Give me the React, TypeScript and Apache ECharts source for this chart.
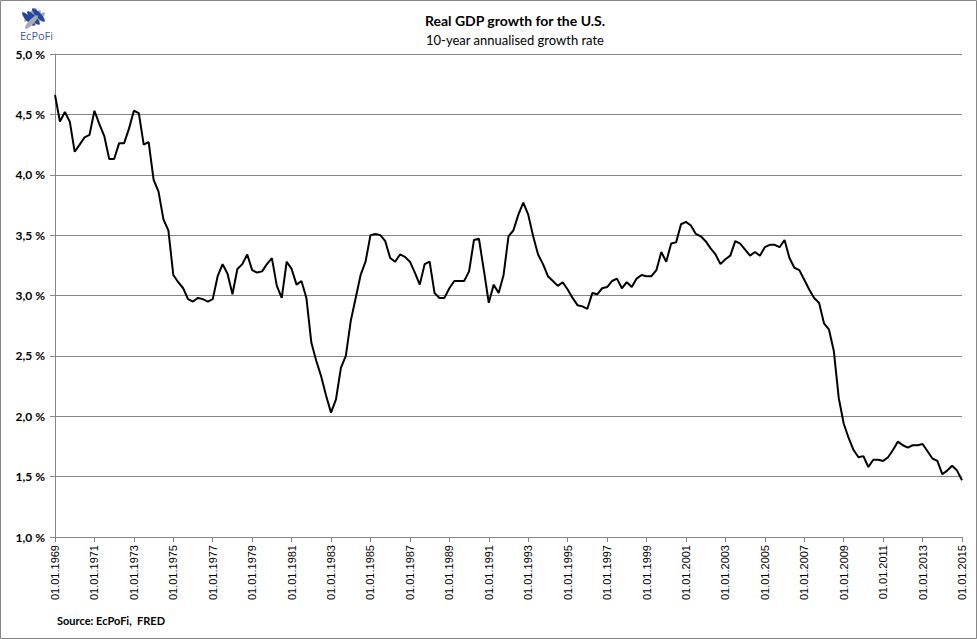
import React, { useEffect, useRef } from "react";
import * as echarts from "echarts";

const startYear = 1969;
const endYear = 2015;
const quarterMonths = ["01", "04", "07", "10"];

const growthRate = [
  4.66, 4.44, 4.52, 4.44, 4.19, 4.25, 4.31, 4.33,
  4.53, 4.42, 4.32, 4.13, 4.13, 4.26, 4.26, 4.38,
  4.53, 4.51, 4.25, 4.27, 3.96, 3.86, 3.63, 3.54,
  3.17, 3.11, 3.06, 2.97, 2.95, 2.98, 2.97, 2.95,
  2.97, 3.16, 3.26, 3.18, 3.01, 3.22, 3.26, 3.34,
  3.21, 3.19, 3.2, 3.26, 3.31, 3.08, 2.98, 3.28,
  3.22, 3.09, 3.12, 2.98, 2.61, 2.46, 2.33, 2.17,
  2.03, 2.14, 2.4, 2.5, 2.79, 2.98, 3.17, 3.28,
  3.5, 3.51, 3.5, 3.45, 3.31, 3.28, 3.34, 3.32,
  3.28, 3.19, 3.09, 3.26, 3.28, 3.02, 2.98, 2.98,
  3.06, 3.12, 3.12, 3.12, 3.2, 3.46, 3.47, 3.21,
  2.94, 3.09, 3.02, 3.17, 3.49, 3.54, 3.67, 3.77,
  3.67, 3.49, 3.34, 3.26, 3.16, 3.12, 3.08, 3.11,
  3.05, 2.98, 2.92, 2.91, 2.89, 3.02, 3.01, 3.06,
  3.07, 3.12, 3.14, 3.06, 3.11, 3.07, 3.14, 3.17,
  3.16, 3.16, 3.21, 3.36, 3.28, 3.43, 3.44, 3.59,
  3.61, 3.58, 3.51, 3.49, 3.45, 3.39, 3.34, 3.26,
  3.3, 3.33, 3.45, 3.43, 3.38, 3.33, 3.36, 3.33,
  3.4, 3.42, 3.42, 3.4, 3.46, 3.31, 3.23, 3.21,
  3.13, 3.05, 2.98, 2.94, 2.77, 2.72, 2.54, 2.15,
  1.94, 1.82, 1.72, 1.66, 1.67, 1.58, 1.64, 1.64,
  1.63, 1.66, 1.72, 1.79, 1.76, 1.74, 1.76, 1.76,
  1.77, 1.71, 1.65, 1.63, 1.52, 1.55, 1.59, 1.55,
  1.47,
];

const categories: string[] = [];
for (let y = startYear; y <= endYear; y++) {
  for (const m of quarterMonths) {
    if (y === endYear && m !== "01") break;
    categories.push(`01.${m}.${y}`);
  }
}

const yMin = 1.0;
const yMax = 5.0;
const yStep = 0.5;
const labelEvery = 8;

const titleText = "Real GDP growth for the U.S.";
const subtitleText = "10-year annualised growth rate";
const sourceText = "Source: EcPoFi,  FRED";
const logoText = "EcPoFi";

function stripe(cx: number, cy: number, rot: number, color: string) {
  return {
    type: "ellipse",
    x: cx,
    y: cy,
    rotation: rot,
    shape: { cx: 0, cy: 0, rx: 2.6, ry: 9 },
    style: { fill: color },
  };
}

export default function App() {
  const ref = useRef<HTMLDivElement>(null);
  useEffect(() => {
    document.body.style.margin = "0";
    if (!ref.current) return;
    const chart = echarts.init(ref.current, null, { renderer: "svg" });
    const font = "Lato, 'Open Sans', sans-serif";
    const blue = "#2446a3";
    const gray = "#a7aaae";
    chart.setOption({
      animation: false,
      backgroundColor: "#ffffff",
      grid: { left: 55, right: 15, top: 54, bottom: 102, containLabel: false },
      title: {
        text: titleText,
        subtext: subtitleText,
        left: 510,
        textAlign: "center",
        top: 8,
        itemGap: 6,
        textStyle: { fontFamily: font, fontSize: 14, fontWeight: "bold", color: "#000" },
        subtextStyle: { fontFamily: font, fontSize: 13, color: "#000" },
      },
      xAxis: {
        type: "category",
        data: categories,
        boundaryGap: false,
        axisLine: { lineStyle: { color: "#868686", width: 1 } },
        axisTick: {
          show: true,
          length: 5,
          interval: (idx: number) => idx % labelEvery === 0,
          lineStyle: { color: "#868686" },
        },
        axisLabel: {
          interval: (idx: number) => idx % labelEvery === 0,
          rotate: 90,
          margin: 8,
          fontFamily: "'Liberation Sans', Arial, sans-serif",
          fontSize: 11,
          color: "#000",
        },
        splitLine: { show: false },
      },
      yAxis: {
        type: "value",
        min: yMin,
        max: yMax,
        interval: yStep,
        axisLine: { show: true, lineStyle: { color: "#868686", width: 1 } },
        axisTick: { show: true, length: 5, lineStyle: { color: "#868686" } },
        axisLabel: {
          formatter: (v: number) => v.toFixed(1).replace(".", ",") + " %",
          fontFamily: font,
          fontWeight: "bold",
          fontSize: 12,
          color: "#000",
          margin: 10,
        },
        splitLine: { show: true, lineStyle: { color: "#868686", width: 1 } },
      },
      series: [
        {
          type: "line",
          data: growthRate,
          showSymbol: false,
          symbol: "none",
          lineStyle: { color: "#000000", width: 2 },
          z: 5,
        },
      ],
      graphic: [
        {
          type: "rect",
          shape: { x: 0.5, y: 0.5, width: 976, height: 638 },
          style: { fill: "none", stroke: "#868686", lineWidth: 1 },
          silent: true,
        },
        {
          type: "group",
          x: 34.5,
          y: 17,
          children: [
            stripe(-4, -2, -0.75, gray),
            stripe(0, 0, -0.75, gray),
            stripe(4, 2, -0.75, gray),
            stripe(-6, 2, 0.75, blue),
            stripe(-1, 1, 0.75, blue),
            stripe(4, -2, 0.75, blue),
            stripe(-3, 5, -0.75, gray),
          ],
        },
        {
          type: "text",
          left: 20,
          top: 30,
          style: { text: logoText, fill: "#3a5a9c", font: "11px 'Open Sans', 'Liberation Sans', sans-serif" },
        },
        {
          type: "text",
          left: 57,
          top: 615,
          style: { text: sourceText, fill: "#000", font: "bold 11px Lato, 'Open Sans', sans-serif" },
        },
      ],
    });
    return () => chart.dispose();
  }, []);
  return <div ref={ref} style={{ width: 977, height: 639 }} />;
}
